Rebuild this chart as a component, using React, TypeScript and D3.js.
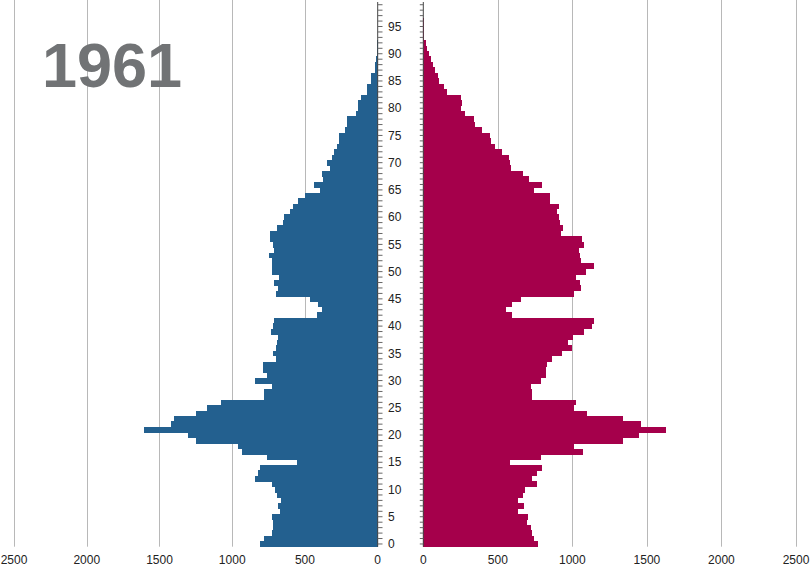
import React from "react";
import * as d3 from "d3";

const year = "1961";
const ages: number[] = d3.range(0, 100);
const male: number[] = [
  811, 781, 724, 721, 719, 724, 673, 685, 664, 694,
  708, 726, 840, 822, 806, 556, 762, 932, 960, 1248,
  1303, 1603, 1418, 1399, 1248, 1172, 1074, 783, 783, 726,
  845, 762, 790, 785, 696, 717, 696, 692, 685, 735,
  720, 716, 419, 382, 410, 465, 698, 685, 712, 680,
  726, 726, 726, 749, 714, 719, 737, 737, 689, 650,
  641, 605, 582, 545, 501, 394, 435, 378, 385, 327,
  348, 314, 302, 282, 263, 263, 224, 213, 213, 149,
  133, 133, 117, 76, 76, 48, 48, 21, 21, 10,
  7, 3, 2, 1, 1, 0, 0, 0, 0, 0,
];
const female: number[] = [
  772, 741, 732, 725, 694, 703, 636, 674, 636, 670,
  683, 761, 732, 763, 797, 583, 790, 1069, 1013, 1339,
  1446, 1627, 1460, 1339, 1098, 1013, 1024, 732, 732, 723,
  790, 826, 824, 830, 866, 931, 1000, 973, 1007, 1080,
  1134, 1147, 596, 556, 596, 658, 1013, 1058, 1051, 1027,
  1089, 1147, 1056, 1051, 1047, 1076, 1062, 924, 937, 917,
  913, 897, 908, 853, 853, 745, 797, 712, 672, 589,
  583, 574, 527, 478, 455, 449, 393, 344, 339, 283,
  250, 261, 250, 158, 138, 107, 98, 80, 65, 49,
  38, 25, 15, 6, 4, 3, 2, 1, 1, 0,
];
const xTicks: number[] = [0, 500, 1000, 1500, 2000, 2500];
const ageLabels: number[] = d3.range(0, 100, 5);

const W = 811;
const H = 566;
const FONT = "Arial, 'Liberation Sans', sans-serif";

export default function App() {
  const y = d3.scaleBand<number>().domain(ages).range([546.7, 2]).paddingInner(0);
  const xL = d3.scaleLinear().domain([0, 2500]).range([377.7, 14]);
  const xR = d3.scaleLinear().domain([0, 2500]).range([423.3, 796]);
  const bw = y.bandwidth();
  const yc = (a: number) => (y(a) as number) + bw / 2;
  const plotTop = 0;
  const plotBottom = 546.7;

  return (
    <div style={{ position: "absolute", left: 0, top: 0 }}>
      <svg width={W} height={H} style={{ display: "block", background: "#fff" }}>
        {/* gridlines */}
        {xTicks.filter((t) => t > 0).map((t) => (
          <line key={"gl" + t} x1={Math.round(xL(t)) + 0.5} x2={Math.round(xL(t)) + 0.5}
            y1={plotTop} y2={plotBottom} stroke="#b8b8b8" strokeWidth={1} />
        ))}
        {xTicks.filter((t) => t > 0).map((t) => (
          <line key={"gr" + t} x1={Math.round(xR(t)) + 0.5} x2={Math.round(xR(t)) + 0.5}
            y1={plotTop} y2={plotBottom} stroke="#b8b8b8" strokeWidth={1} />
        ))}

        {/* year */}
        <text x={42} y={87} fontFamily={FONT} fontWeight="bold" fontSize={63} fill="#717375">
          {year}
        </text>

        {/* bars */}
        <g shapeRendering="crispEdges">
          {ages.map((a, i) => (
            <rect key={"m" + a} x={xL(male[i])} y={y(a)} width={xL(0) - xL(male[i])}
              height={bw + 0.4} fill="#23608f" />
          ))}
          {ages.map((a, i) => (
            <rect key={"f" + a} x={xR(0)} y={y(a)} width={xR(female[i]) - xR(0)}
              height={bw + 0.4} fill="#a5004b" />
          ))}
        </g>

        {/* left axis */}
        <line x1={377.7} x2={377.7} y1={2} y2={plotBottom} stroke="#444" strokeWidth={1} />
        {ages.map((a) => (
          <line key={"tl" + a} x1={377.7} x2={382.5} y1={yc(a)} y2={yc(a)} stroke="#666" strokeWidth={1} />
        ))}
        {/* right axis */}
        <line x1={423.3} x2={423.3} y1={2} y2={plotBottom} stroke="#444" strokeWidth={1} />
        {ages.map((a) => (
          <line key={"tr" + a} x1={419.8} x2={423.3} y1={yc(a)} y2={yc(a)} stroke="#666" strokeWidth={1} />
        ))}
        {ageLabels.map((a) => (
          <text key={"al" + a} x={388} y={yc(a)} dy="0.35em" fontFamily={FONT} fontSize={12} fill="#222">
            {a}
          </text>
        ))}

        {/* bottom labels */}
        {xTicks.map((t) => (
          <text key={"bl" + t} x={xL(t)} y={563.5} textAnchor="middle" fontFamily={FONT} fontSize={12} fill="#222">
            {t}
          </text>
        ))}
        {xTicks.map((t) => (
          <text key={"br" + t} x={xR(t)} y={563.5} textAnchor="middle" fontFamily={FONT} fontSize={12} fill="#222">
            {t}
          </text>
        ))}
      </svg>
    </div>
  );
}
